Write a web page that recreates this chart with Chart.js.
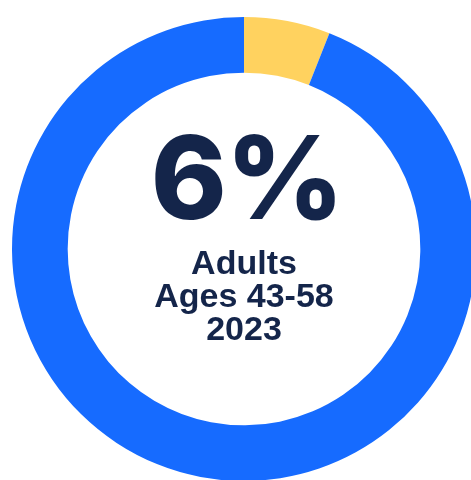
<!DOCTYPE html>
<html>
<head>
<meta charset="utf-8">
<script src="https://cdn.jsdelivr.net/npm/chart.js@4"></script>
<style>
  html, body { margin: 0; padding: 0; background: #fff; width: 471px; height: 480px; overflow: hidden; }
  #wrap { position: absolute; left: 12px; top: 17px; width: 464px; height: 464px; }
  .center { position: absolute; left: 0; width: 488px; text-align: center; color: #14254A; }
  #big { left: 3px; top: 121px; font-family: Inter, "Liberation Sans", sans-serif; font-size: 115px; line-height: 114px; font-weight: 800; letter-spacing: -1px; }
  #sub { top: 246px; font-family: "Liberation Sans", Arial, sans-serif; font-size: 34px; line-height: 33px; font-weight: 700; }
</style>
</head>
<body>
<div id="wrap"><canvas id="c"></canvas></div>
<div class="center" id="big"></div>
<div class="center" id="sub"></div>
<script>
const categories = ["Yes", "No"];
const values = [6, 94];
const colors = ["#FFD25F", "#166BFF"];
const headline = "6%";
const subLines = ["Adults", "Ages 43-58", "2023"];

document.getElementById('big').textContent = headline;
document.getElementById('sub').innerHTML = subLines.map(s => '<div>' + s + '</div>').join('');

new Chart(document.getElementById('c'), {
  type: 'doughnut',
  data: {
    labels: categories,
    datasets: [{ data: values, backgroundColor: colors, borderWidth: 0, hoverOffset: 0 }]
  },
  options: {
    responsive: true,
    maintainAspectRatio: false,
    animation: false,
    cutout: '76%',
    layout: { padding: 0 },
    plugins: { legend: { display: false }, tooltip: { enabled: false } },
    events: []
  }
});
</script>
</body>
</html>
